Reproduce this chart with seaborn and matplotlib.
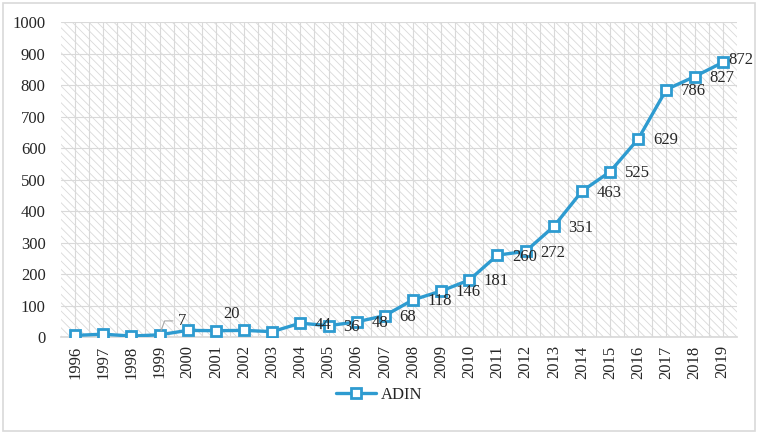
import matplotlib
matplotlib.use("Agg")
import matplotlib.pyplot as plt
import seaborn as sns
import pandas as pd
from matplotlib.patches import Rectangle

years = list(range(1996, 2020))
adin = [5, 9, 3, 7, 21, 20, 21, 17, 44, 36, 48, 68, 118, 146, 181,
        260, 272, 351, 463, 525, 629, 786, 827, 872]
# which points carry a data label
labelled = [1999, 2001] + list(range(2004, 2020))

BLUE = "#2E9BD0"
GRID = "#D9D9D9"

sns.set_theme(style="white")
plt.rcParams["font.family"] = ["Liberation Serif", "DejaVu Serif"]
plt.rcParams["hatch.linewidth"] = 0.6
plt.rcParams["hatch.color"] = GRID

df = pd.DataFrame({"year": years, "ADIN": adin})

fig = plt.figure(figsize=(7.58, 4.34), dpi=100)
ax = fig.add_axes([0.0805, 0.2235, 0.8915, 0.7255])

# hatched plot area
ax.add_patch(Rectangle((0, 0), 1, 1, transform=ax.transAxes, facecolor="white",
                       edgecolor=GRID, hatch="\\\\\\\\", lw=0, zorder=0))

sns.lineplot(data=df, x="year", y="ADIN", ax=ax, color=BLUE, lw=2.4,
             marker="s", markersize=6.8, markerfacecolor="white",
             markeredgecolor=BLUE, markeredgewidth=2.0, label="ADIN", zorder=3)

FS = 12
ax.set_xlim(1995.5, 2019.5)
ax.set_ylim(0, 1000)
ax.set_xticks(years)
ax.set_xticks([y + 0.5 for y in years[:-1]], minor=True)
ax.set_xticklabels([str(y) for y in years], rotation=90, fontsize=FS)
ax.set_yticks(range(0, 1001, 100))
ax.tick_params(axis="y", labelsize=FS, length=0, pad=11)
ax.tick_params(axis="x", which="both", length=0, pad=6)
ax.grid(True, which="major", color=GRID, lw=0.8, zorder=1)
ax.grid(True, which="minor", axis="x", color=GRID, lw=0.8, zorder=1)
ax.set_axisbelow(True)
ax.set_xlabel("")
ax.set_ylabel("")
for s in ["top", "right", "left"]:
    ax.spines[s].set_visible(False)
ax.spines["bottom"].set_color(GRID)

# data labels (offsets in points)
offsets = {1999: (13, 10), 2001: (11, 12), 2019: (3.8, 1.5)}
for yr, v in zip(years, adin):
    if yr not in labelled:
        continue
    dx, dy = offsets.get(yr, (10.5, -1))
    if yr == 1999:
        ax.annotate(str(v), (yr, v), xytext=(dx, dy), textcoords="offset points",
                    fontsize=FS, ha="left", va="center",
                    arrowprops=dict(arrowstyle="-", color="#A6A6A6", lw=0.8,
                                    shrinkA=1, shrinkB=3,
                                    connectionstyle="angle,angleA=0,angleB=70"))
    elif yr == 2001:
        ax.annotate(str(v), (yr, v), xytext=(dx, dy), textcoords="offset points",
                    fontsize=FS, ha="center", va="center")
    else:
        ax.annotate(str(v), (yr, v), xytext=(dx, dy), textcoords="offset points",
                    fontsize=FS, ha="left", va="center", zorder=4)

ax.legend(loc="center", bbox_to_anchor=(0.5, 0.09), bbox_transform=fig.transFigure,
          frameon=False, fontsize=FS, handlelength=2.4, handletextpad=0.3)

fig.patches.append(Rectangle((0.004, 0.006), 0.992, 0.988, transform=fig.transFigure,
                             fill=False, edgecolor=GRID, lw=1.2))

fig.savefig("out.png", dpi=100)
